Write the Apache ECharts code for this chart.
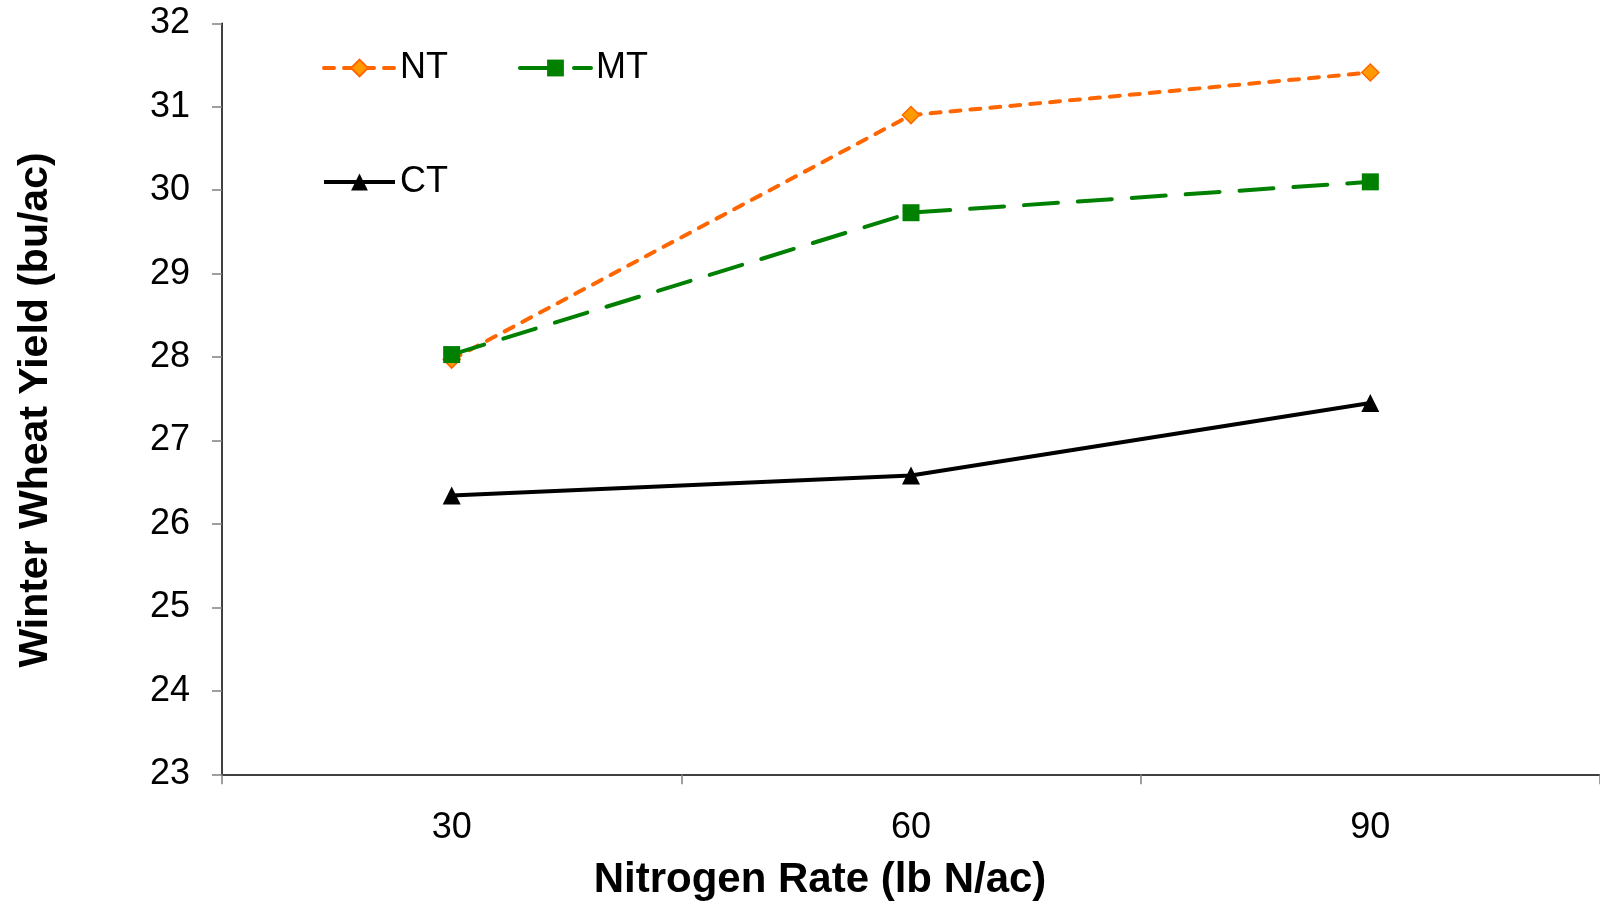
<!DOCTYPE html>
<html>
<head>
<meta charset="utf-8">
<script src="https://cdn.jsdelivr.net/npm/echarts@6/dist/echarts.min.js"></script>
<style>html,body{margin:0;padding:0;background:#fff;}#c{width:1600px;height:906px;}</style>
</head>
<body>
<div id="c"></div>
<script>
const categories = ['30', '60', '90'];
const ntValues = [27.97, 30.90, 31.41];
const mtValues = [28.03, 29.73, 30.10];
const ctValues = [26.34, 26.58, 27.45];
const yTicks = [23, 24, 25, 26, 27, 28, 29, 30, 31, 32];

const font = '"Liberation Sans", Arial, sans-serif';
const chart = echarts.init(document.getElementById('c'));
chart.setOption({
  animation: false,
  backgroundColor: '#fff',
  grid: { left: 222, right: 0, top: 23.3, bottom: 131.7, containLabel: false },
  xAxis: {
    type: 'category',
    data: categories,
    boundaryGap: true,
    axisLine: { lineStyle: { color: '#000', width: 1.5 } },
    axisTick: { show: true, length: 10, inside: false, lineStyle: { color: '#808080', width: 1.5 } },
    axisLabel: { color: '#000', fontSize: 36, fontFamily: font, margin: 36 },
    splitLine: { show: false }
  },
  yAxis: {
    type: 'value',
    min: yTicks[0],
    max: yTicks[yTicks.length - 1],
    interval: 1,
    axisLine: { show: true, lineStyle: { color: '#000', width: 1.5 } },
    axisTick: { show: true, length: 10, lineStyle: { color: '#808080', width: 1.5 } },
    axisLabel: { color: '#000', fontSize: 36, fontFamily: font, margin: 32 },
    splitLine: { show: false }
  },
  legend: [
    {
      data: ['NT', 'MT'],
      left: 322, top: 50,
      orient: 'horizontal',
      itemWidth: 71, itemHeight: 21, itemGap: 70,
      lineStyle: { width: 4 },
      textStyle: { fontSize: 36, fontFamily: font, color: '#000' },
      padding: 0
    },
    {
      data: ['CT'],
      left: 322, top: 164,
      itemWidth: 71, itemHeight: 21,
      lineStyle: { width: 4 },
      textStyle: { fontSize: 36, fontFamily: font, color: '#000' },
      padding: 0
    }
  ],
  graphic: [
    {
      type: 'text', x: 820, y: 880,
      style: { text: 'Nitrogen Rate (lb N/ac)', fontSize: 42, fontWeight: 'bold', fontFamily: font, fill: '#000', textAlign: 'center', textVerticalAlign: 'middle' }
    },
    {
      type: 'text', x: 36, y: 410, rotation: Math.PI / 2,
      style: { text: 'Winter Wheat Yield (bu/ac)', fontSize: 41, fontWeight: 'bold', fontFamily: font, fill: '#000', textAlign: 'center', textVerticalAlign: 'middle' }
    }
  ],
  series: [
    {
      name: 'NT', type: 'line', data: ntValues,
      symbol: 'diamond', symbolSize: 17,
      lineStyle: { color: '#FF6600', width: 4, type: [10, 10], cap: 'round' },
      itemStyle: { color: '#FF9900', borderColor: '#FF6600', borderWidth: 1.5 },
      z: 3
    },
    {
      name: 'MT', type: 'line', data: mtValues,
      symbol: 'rect', symbolSize: 17,
      lineStyle: { color: '#008000', width: 4, type: [34, 20], cap: 'round' },
      itemStyle: { color: '#008000' },
      z: 4
    },
    {
      name: 'CT', type: 'line', data: ctValues,
      symbol: 'triangle', symbolSize: 18,
      lineStyle: { color: '#000', width: 4 },
      itemStyle: { color: '#000' },
      z: 2
    }
  ]
});
</script>
</body>
</html>
